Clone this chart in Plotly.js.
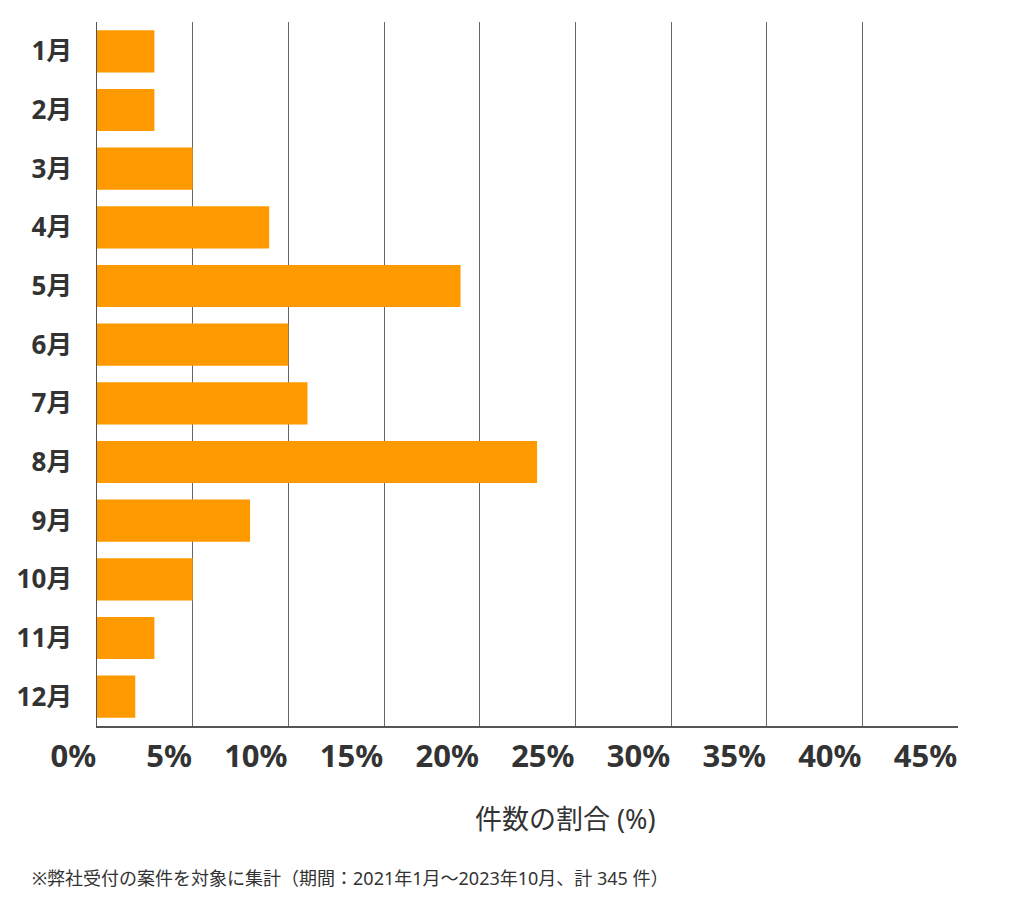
<!DOCTYPE html>
<html>
<head>
<meta charset="utf-8">
<script src="https://cdn.plot.ly/plotly-3.0.1.min.js"></script>
<style>
  html, body { margin: 0; padding: 0; background: #fff; }
  #chart { width: 1024px; height: 905px; }
</style>
</head>
<body>
<div id="chart"></div>
<script>
// Data (share of cases per month, %)
const months = ['1月', '2月', '3月', '4月', '5月', '6月', '7月', '8月', '9月', '10月', '11月', '12月'];
const shares = [3, 3, 5, 9, 19, 10, 11, 23, 8, 5, 3, 2];
const xTickVals = [0, 5, 10, 15, 20, 25, 30, 35, 40, 45];
const xTickText = ['0%', '5%', '10%', '15%', '20%', '25%', '30%', '35%', '40%', '45%'];
const axisTitle = '件数の割合 (%)';
const footnote = '※弊社受付の案件を対象に集計（期間：2021年1月～2023年10月、計 345 件）';

const FONT = '"Noto Sans", "Noto Sans CJK JP", sans-serif';
const TEXT = '#333333';

const data = [{
    type: 'bar',
    orientation: 'h',
    x: shares,
    y: months,
    marker: { color: '#ff9900', line: { width: 0 } },
    hoverinfo: 'x+y'
}];

const layout = {
    width: 1024,
    height: 905,
    margin: { l: 97, r: 66, t: 22, b: 179 },
    paper_bgcolor: '#ffffff',
    plot_bgcolor: '#ffffff',
    font: { family: FONT, color: TEXT },
    bargap: 0.28,
    showlegend: false,
    xaxis: {
        range: [0, 45],
        tickvals: xTickVals,
        ticktext: xTickText,
        showgrid: true,
        gridcolor: '#666666',
        gridwidth: 1,
        zeroline: false,
        showline: true,
        linecolor: '#555555',
        linewidth: 1.5,
        ticks: '',
        ticklabelposition: 'outside left',
        ticklabelstandoff: 2,
        tickfont: { family: FONT, size: 31, color: TEXT, weight: 'bold' },
        fixedrange: true
    },
    yaxis: {
        type: 'category',
        autorange: 'reversed',
        showgrid: false,
        zeroline: false,
        showline: true,
        linecolor: '#555555',
        linewidth: 1.5,
        ticks: '',
        ticklabelstandoff: 18,
        tickfont: { family: FONT, size: 26, color: TEXT, weight: 'bold' },
        fixedrange: true
    },
    annotations: [
        {
            text: axisTitle,
            xref: 'paper', yref: 'paper',
            x: 0.5436, y: -0.1307,
            xanchor: 'center', yanchor: 'middle',
            showarrow: false,
            font: { family: FONT, size: 27, color: TEXT }
        },
        {
            text: footnote,
            xref: 'paper', yref: 'paper',
            x: -0.0778, y: -0.216,
            xanchor: 'left', yanchor: 'middle',
            showarrow: false,
            font: { family: FONT, size: 18, color: TEXT }
        }
    ]
};

Plotly.newPlot('chart', data, layout, { displayModeBar: false, staticPlot: true });
</script>
</body>
</html>
